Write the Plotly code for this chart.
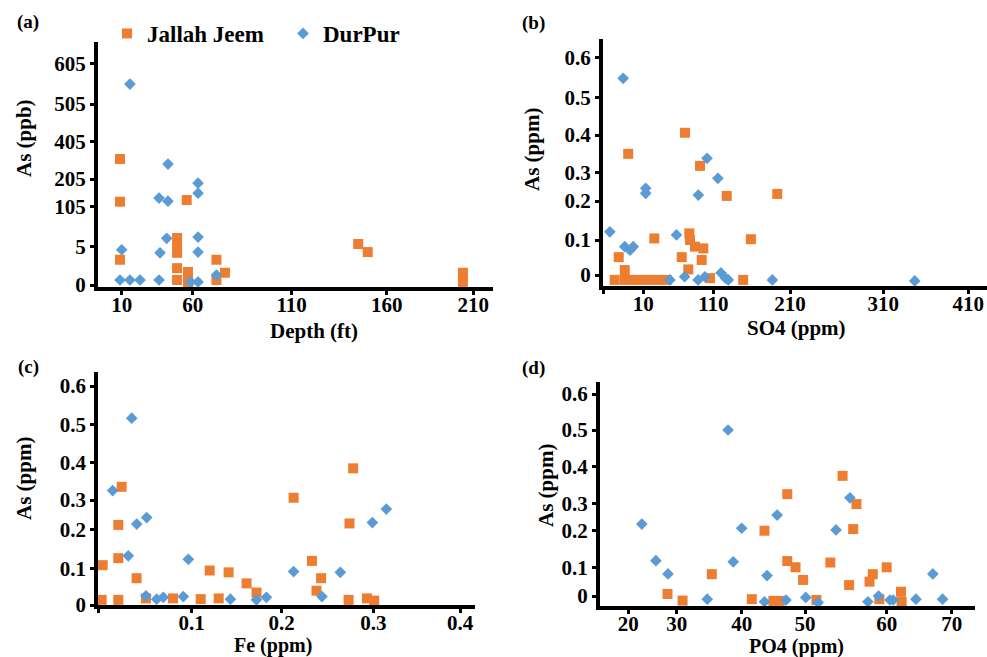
import numpy as np
import plotly.graph_objects as go

# ---------------- DATA ----------------
# Panel (a): Depth (ft) vs As (ppb)
a_depth_jj = [8.8, 8.8, 8.8, 55.8, 49, 49, 49, 49, 49, 56.7, 56.7, 72, 72, 76.3, 145, 150, 204, 204]
a_as_jj = [312, 123, 3.3, 129, 26.7, 6.7, 4.2, 2.2, 0.65, 1.7, 0.4, 3.3, 0.65, 1.6, 11.7, 4.3, 1.6, 0.4]
a_depth_dp = [15.8, 10, 8.8, 15.8, 22.9, 36.3, 42.6, 42.6, 41.7, 37, 36.3, 62.7, 62.7, 62.7, 62.7, 62.7, 58.7, 72]
a_as_dp = [554, 4.6, 0.65, 0.65, 0.65, 136, 125, 285, 26, 4.2, 0.65, 190, 154, 29, 4.3, 0.4, 0.4, 1.3]

# Panel (b): SO4 (ppm) vs As (ppm)
b_so4_jj = [69.6, 6.25, 91, 127.5, 193.4, 25.7, 159, 75.7, 76.7, 83.9, 95.7, 64.9, 93.4, 74.3, 3.9, 5.4,
            2.9, 5.4, 7.5, 9.6, 19.6, 31.4, 43.3, 105.3, 149]
b_as_jj = [0.406, 0.35, 0.318, 0.218, 0.225, 0.104, 0.102, 0.117, 0.1, 0.081, 0.076, 0.051, 0.043, 0.016, 0.051, 0.014,
           -0.014, -0.014, -0.014, -0.014, -0.014, -0.014, -0.014, -0.009, -0.014]
b_so4_dp = [5, 101, 116, 13.4, 13.4, 88.6, 1.7, 5.4, 7.5, 6.7, 57.4, 69, 88.3, 98, 120, 126, 129.6, 48, 187, 347]
b_as_dp = [0.548, 0.338, 0.280, 0.245, 0.227, 0.221, 0.121, 0.081, 0.081, 0.071, 0.113, -0.005, -0.014, -0.005,
           0.006, -0.009, -0.014, -0.014, -0.014, -0.017]

# Panel (c): Fe (ppm) vs As (ppm)
c_fe_jj = [0.025, 0.0214, 0.0214, 0.0047, 0.041, 0.0036, 0.0214, 0.051, 0.080, 0.110, 0.120, 0.141, 0.130, 0.161,
           0.172, 0.213, 0.233, 0.243, 0.238, 0.278, 0.274, 0.273, 0.293, 0.301]
c_as_jj = [0.335, 0.215, 0.126, 0.108, 0.073, 0.014, 0.014, 0.018, 0.018, 0.016, 0.094, 0.089, 0.018, 0.059,
           0.034, 0.306, 0.119, 0.073, 0.039, 0.384, 0.22, 0.014, 0.018, 0.012]
c_fe_dp = [0.0358, 0.0154, 0.0411, 0.0518, 0.0321, 0.0964, 0.213, 0.264, 0.299, 0.315, 0.244, 0.091, 0.0625,
           0.0696, 0.143, 0.172, 0.183, 0.051]
c_as_dp = [0.516, 0.325, 0.218, 0.240, 0.132, 0.123, 0.091, 0.089, 0.223, 0.269, 0.023, 0.023, 0.016, 0.021,
           0.016, 0.014, 0.021, 0.025]

# Panel (d): PO4 (ppm) vs As (ppm)
d_po4_jj = [13.8, 28.1, 30.9, 35.4, 41.6, 43.6, 45.0, 46.0, 47.2, 47.2, 48.5, 49.7, 51.4, 53.1, 54.6, 55.4, 56.3,
            55.9, 57.9, 58.3, 59.1, 60.0, 62.2, 62.3]
d_as_jj = [0.003, 0.007, -0.016, 0.076, -0.011, 0.2, -0.017, -0.017, 0.325, 0.117, 0.1, 0.056, -0.014, 0.113,
           0.375, 0.038, 0.297, 0.206, 0.050, 0.076, -0.011, 0.1, 0.015, -0.020]
d_po4_dp = [22.8, 25.7, 28.2, 34.7, 37.9, 38.7, 40.0, 44.0, 45.6, 43.6, 47.0, 50.1, 51.6, 53.8, 55.5, 57.7, 59.0,
            60.5, 61.0, 64.5, 67.1, 68.6]
d_as_dp = [0.224, 0.118, 0.077, -0.011, 0.5, 0.115, 0.209, 0.071, 0.257, -0.020, -0.014, -0.005, -0.023, 0.203,
           0.315, -0.020, 0.0, -0.014, -0.014, -0.011, 0.077, -0.011]

# Tick labels (values) of each (irregular) axis
a_x_ticks = [10, 60, 110, 160, 210]
a_y_ticks = [0, 5, 105, 205, 405, 505, 605]
b_x_ticks = [0, 10, 110, 210, 310, 410]
b_y_ticks = [0, 0.1, 0.2, 0.3, 0.4, 0.5, 0.6]
c_x_ticks = [0, 0.1, 0.2, 0.3, 0.4]
c_y_ticks = [0, 0.1, 0.2, 0.3, 0.4, 0.5, 0.6]
d_x_ticks = [20, 30, 40, 50, 60, 70]
d_y_ticks = [0, 0.1, 0.2, 0.3, 0.4, 0.5, 0.6]

# ---------------- LAYOUT (axis geometry, px) ----------------
W, H = 987, 657
geom = {
    "a": dict(x0=98, x1=493, yb=287, yt=42,
              xpos=[23.7, 94.7, 193.7, 288.7, 375.3],
              ypos=[2, 40.3, 80.3, 108, 145.3, 183, 223.7]),
    "b": dict(x0=603, x1=987, yb=285.7, yt=39,
              xpos=[0, 40.3, 110.3, 187, 280.3, 365.3],
              ypos=[10.7, 45.7, 84.7, 113, 150.7, 188, 228.4]),
    "c": dict(x0=98.3, x1=475, yb=605, yt=371.7,
              xpos=[0, 93.4, 183.4, 275, 361.7],
              ypos=[0, 36.7, 75.7, 105, 142.7, 180.7, 219]),
    "d": dict(x0=600, x1=975, yb=605.7, yt=381.7,
              xpos=[28.3, 76.7, 141.7, 205, 286.7, 351.7],
              ypos=[9.7, 38.4, 75, 102.4, 139, 175.7, 211.7]),
}


def warp(v, vals, pos):
    v = np.asarray(v, float)
    vals = np.asarray(vals, float)
    pos = np.asarray(pos, float)
    out = np.interp(v, vals, pos)
    lo = v < vals[0]
    out[lo] = pos[0] + (v[lo] - vals[0]) * (pos[1] - pos[0]) / (vals[1] - vals[0])
    hi = v > vals[-1]
    out[hi] = pos[-1] + (v[hi] - vals[-1]) * (pos[-1] - pos[-2]) / (vals[-1] - vals[-2])
    return out


ORANGE = "#ED7D31"
BLUE = "#5B9BD5"
FONT = "Liberation Serif"

panels = {
    "a": (a_depth_jj, a_as_jj, a_depth_dp, a_as_dp, a_x_ticks, a_y_ticks),
    "b": (b_so4_jj, b_as_jj, b_so4_dp, b_as_dp, b_x_ticks, b_y_ticks),
    "c": (c_fe_jj, c_as_jj, c_fe_dp, c_as_dp, c_x_ticks, c_y_ticks),
    "d": (d_po4_jj, d_as_jj, d_po4_dp, d_as_dp, d_x_ticks, d_y_ticks),
}

fig = go.Figure()
layout_axes = {}
for i, key in enumerate(["a", "b", "c", "d"]):
    g = geom[key]
    xj, yj, xd, yd, xt, yt = panels[key]
    n = "" if i == 0 else str(i + 1)
    xa, ya = "x" + n, "y" + n
    fig.add_trace(go.Scatter(
        x=warp(xj, xt, g["xpos"]), y=warp(yj, yt, g["ypos"]), mode="markers",
        name="<b>Jallah Jeem</b>", legendgroup="jj", showlegend=(i == 0), cliponaxis=False,
        marker=dict(symbol="square", size=10, color=ORANGE),
        xaxis=xa, yaxis=ya))
    fig.add_trace(go.Scatter(
        x=warp(xd, xt, g["xpos"]), y=warp(yd, yt, g["ypos"]), mode="markers",
        name="<b>DurPur</b>", legendgroup="dp", showlegend=(i == 0), cliponaxis=False,
        marker=dict(symbol="diamond", size=9, color=BLUE),
        xaxis=xa, yaxis=ya))
    xtext = ["" if (v == 0 and key in ("b", "c")) else "<b>%s</b>" % v for v in xt]
    common = dict(showgrid=False, zeroline=False, showline=True, linewidth=4, linecolor="black",
                  ticks="outside", ticklen=4, tickwidth=3, tickcolor="black", automargin=False,
                  tickfont=dict(family=FONT, size=21, color="black"))
    layout_axes["xaxis" + n] = dict(
        domain=[g["x0"] / W, g["x1"] / W], range=[0, g["x1"] - g["x0"]],
        tickmode="array", tickvals=g["xpos"], ticktext=xtext, anchor=ya,
        ticklabelstandoff=-8, **common)
    layout_axes["yaxis" + n] = dict(
        domain=[1 - g["yb"] / H, 1 - g["yt"] / H], range=[0, g["yb"] - g["yt"]],
        tickmode="array", tickvals=g["ypos"], ticktext=["<b>%s</b>" % v for v in yt], anchor=xa, **common)

ann = []


def add_text(txt, px, py, size, angle=0):
    ann.append(dict(text="<b>%s</b>" % txt, x=px / W, y=1 - py / H, xref="paper", yref="paper",
                    xanchor="center", yanchor="middle", showarrow=False, textangle=angle,
                    font=dict(family=FONT, size=size, color="black")))


add_text("(a)", 28, 22, 19)
add_text("(b)", 533, 23, 19)
add_text("(c)", 28, 367, 19)
add_text("(d)", 533, 368, 19)
add_text("Depth (ft)", 314, 331, 21)
add_text("SO4 (ppm)", 796, 328, 21)
add_text("Fe (ppm)", 273, 645, 20)
add_text("PO4 (ppm)", 796, 646, 20)
add_text("As (ppb)", 24, 138, 21, -90)
add_text("As (ppm)", 532, 150, 21, -90)
add_text("As (ppm)", 24, 479, 21, -90)
add_text("As (ppm)", 546, 486, 21, -90)

fig.update_layout(
    width=W, height=H, margin=dict(l=0, r=0, t=0, b=0, autoexpand=False),
    paper_bgcolor="white", plot_bgcolor="white",
    font=dict(family=FONT, color="black"),
    showlegend=True,
    legend=dict(orientation="h", x=107 / W, y=1 - 12 / H, xanchor="left", yanchor="top",
                bgcolor="rgba(0,0,0,0)", entrywidth=131, entrywidthmode="pixels",
                font=dict(family=FONT, size=23, color="black")),
    annotations=ann,
    **layout_axes,
)

fig.write_html("out.html", config={"displayModeBar": False},
               post_script="document.body.style.margin='0';")
